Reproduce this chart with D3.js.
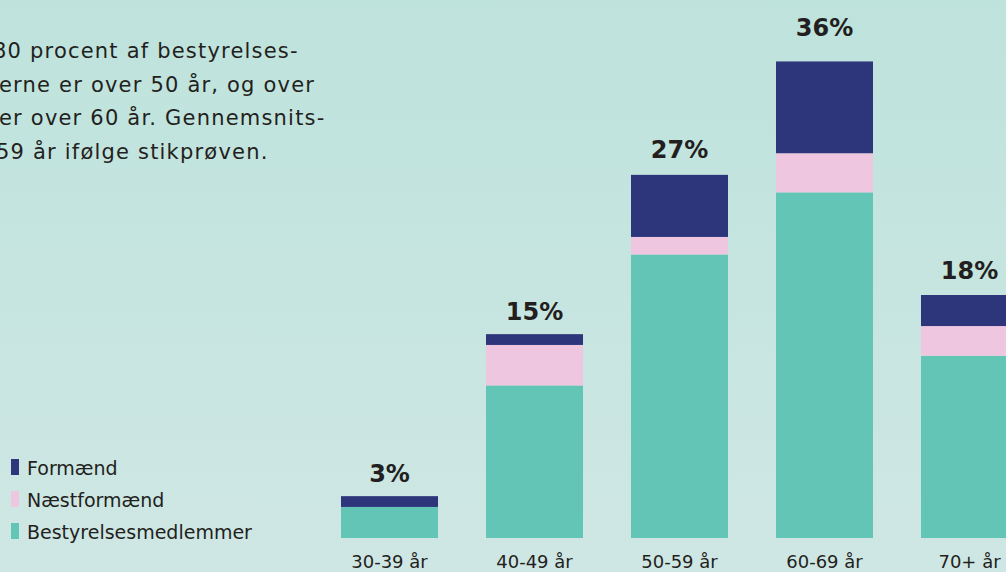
<!DOCTYPE html>
<html>
<head>
<meta charset="utf-8">
<script src="https://cdn.jsdelivr.net/npm/d3@7"></script>
<style>
  html, body { margin: 0; padding: 0; overflow: hidden; }
  body { width: 1006px; height: 572px; }
  text { font-family: "DejaVu Sans", sans-serif; fill: #231f20; }
</style>
</head>
<body>
<div id="chart"></div>
<script>
// age groups and the three stacked parts (percent of all board members)
const ageGroups = ['30-39 år', '40-49 år', '50-59 år', '60-69 år', '70+ år'];
const members = [2.3, 11.3, 21.0, 25.6, 13.5];      // Bestyrelsesmedlemmer
const viceChairs = [0, 3.0, 1.3, 2.9, 2.2];         // Næstformænd
const chairs = [0.8, 0.8, 4.6, 6.8, 2.3];           // Formænd
const totalLabels = [3, 15, 27, 36, 18];

const seriesKeys = ['members', 'viceChairs', 'chairs'];
const seriesNames = ['Bestyrelsesmedlemmer', 'Næstformænd', 'Formænd'];
const seriesColors = ['#63c5b5', '#efc6df', '#2e367b'];

const introLines = [
  '80 procent af bestyrelses-',
  'erne er over 50 år, og over',
  'er over 60 år. Gennemsnits-',
  '59 år ifølge stikprøven.'
];

const width = 1006, height = 572;

const svg = d3.select('#chart').append('svg')
  .attr('width', width)
  .attr('height', height);

// soft mint background
const grad = svg.append('defs').append('linearGradient')
  .attr('id', 'bg').attr('x1', 0).attr('y1', 0).attr('x2', 0).attr('y2', 1);
grad.append('stop').attr('offset', '0%').attr('stop-color', '#bee3dc');
grad.append('stop').attr('offset', '100%').attr('stop-color', '#cfe7e4');
svg.append('rect').attr('width', width).attr('height', height).attr('fill', 'url(#bg)');

const rows = ageGroups.map((g, i) => ({
  group: g,
  members: members[i],
  viceChairs: viceChairs[i],
  chairs: chairs[i],
  label: totalLabels[i]
}));

const x = d3.scaleBand()
  .domain(ageGroups)
  .range([341, 1018])
  .paddingInner(0.331)
  .paddingOuter(0);

const y = d3.scaleLinear()
  .domain([0, 40])
  .range([538, -2]);

const stacked = d3.stack().keys(seriesKeys)(rows);

svg.append('g').selectAll('g')
  .data(stacked)
  .join('g')
  .attr('fill', (d, i) => seriesColors[i])
  .selectAll('rect')
  .data(d => d)
  .join('rect')
  .attr('x', d => x(d.data.group))
  .attr('y', d => y(d[1]))
  .attr('width', x.bandwidth())
  .attr('height', d => y(d[0]) - y(d[1]));

// percentage on top of each bar
svg.append('g').selectAll('text')
  .data(rows)
  .join('text')
  .attr('x', d => x(d.group) + x.bandwidth() / 2)
  .attr('y', d => y(d.label) - 16)
  .attr('text-anchor', 'middle')
  .style('font-size', '24px')
  .style('font-weight', 'bold')
  .text(d => d.label + '%');

// category axis, no line or ticks
const xAxis = svg.append('g')
  .attr('transform', 'translate(0,538)')
  .call(d3.axisBottom(x).tickSize(0).tickPadding(30));
xAxis.select('.domain').remove();
xAxis.selectAll('text')
  .attr('dy', 0)
  .style('font-family', '"DejaVu Sans", sans-serif')
  .style('font-size', '18px')
  .attr('fill', '#231f20');

// legend
const legend = svg.append('g').attr('transform', 'translate(11,459)');
const legendOrder = [2, 1, 0];
legendOrder.forEach((s, i) => {
  legend.append('rect')
    .attr('x', 0)
    .attr('y', i * 32)
    .attr('width', 8)
    .attr('height', 16)
    .attr('fill', seriesColors[s]);
  legend.append('text')
    .attr('x', 16)
    .attr('y', i * 32 + 16)
    .style('font-size', '19px')
    .text(seriesNames[s]);
});

// intro paragraph, cut off at the left edge like the source
const intro = svg.append('g');
const introX = [-7, -1, -1, -4];
introLines.forEach((line, i) => {
  intro.append('text')
    .attr('x', introX[i])
    .attr('y', 58 + i * 33.5)
    .style('font-size', '21px')
    .style('letter-spacing', '1.2px')
    .text(line);
});
</script>
</body>
</html>
